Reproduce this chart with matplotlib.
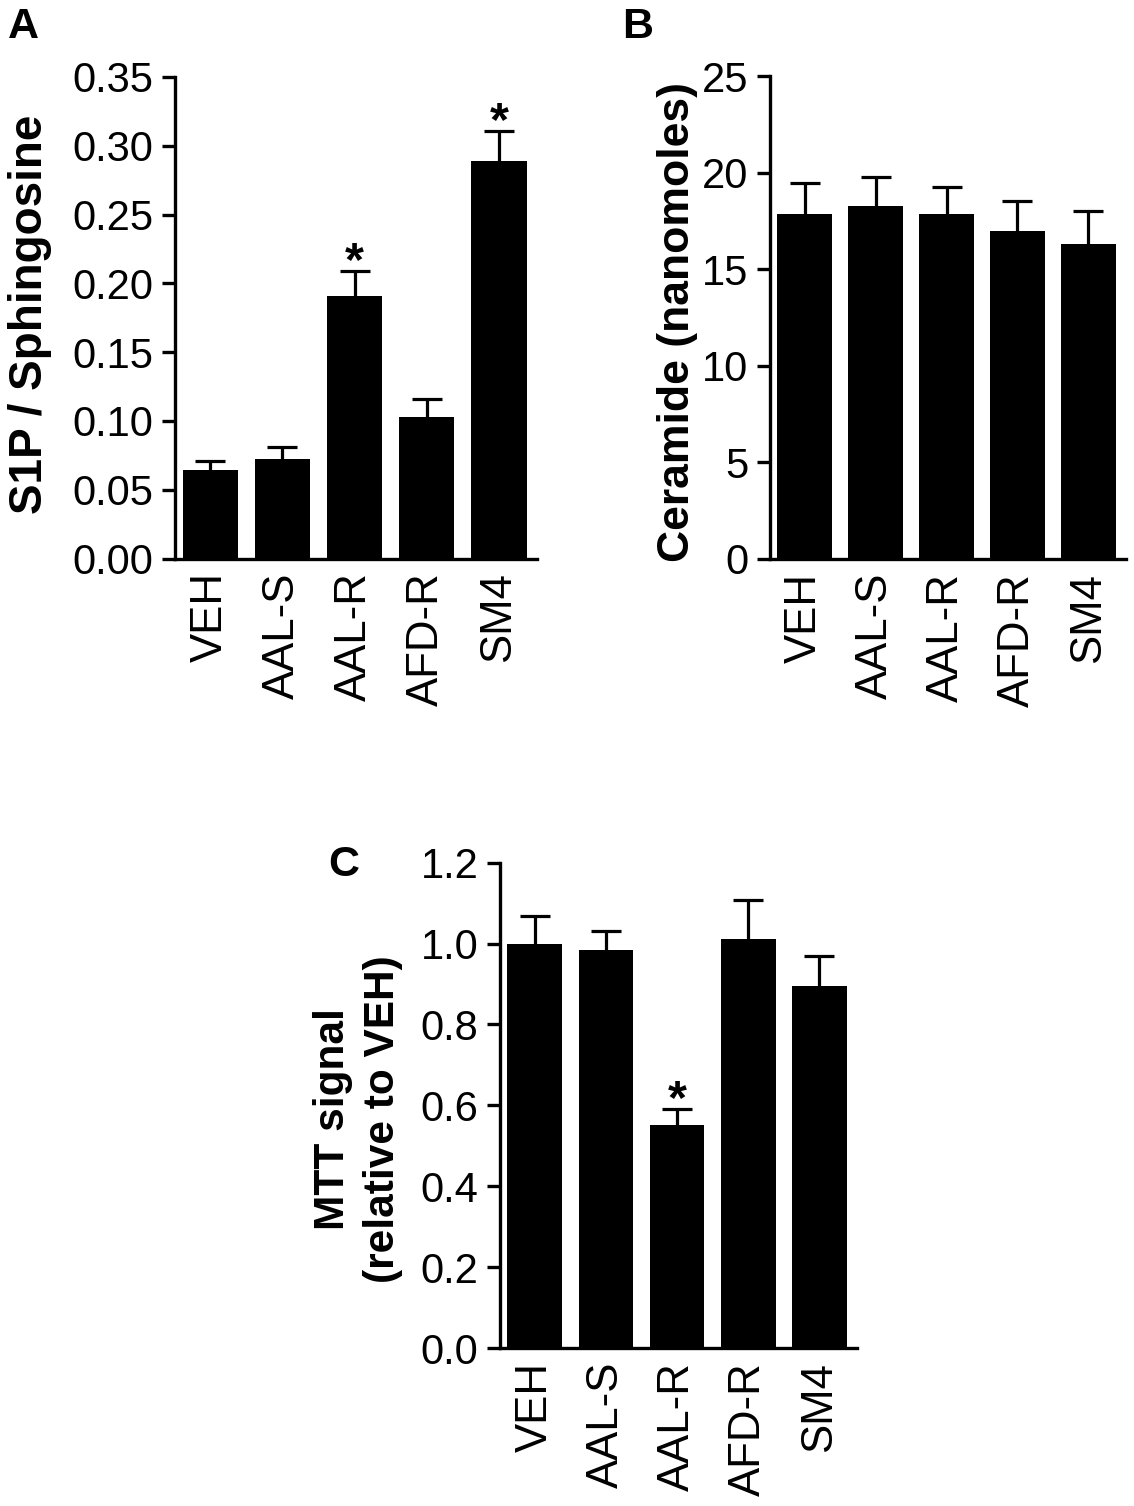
import numpy as np
import matplotlib
matplotlib.use("Agg")
import matplotlib.pyplot as plt

plt.rcParams['font.family'] = ['Liberation Sans', 'DejaVu Sans']

groups = ['VEH', 'AAL-S', 'AAL-R', 'AFD-R', 'SM4']

# panel A: S1P / sphingosine ratio
s1p_mean = [0.064, 0.072, 0.191, 0.103, 0.289]
s1p_sem = [0.007, 0.009, 0.018, 0.013, 0.022]
s1p_sig = [False, False, True, False, True]

# panel B: ceramide (nanomoles)
cer_mean = [17.84, 18.29, 17.84, 16.99, 16.29]
cer_sem = [1.61, 1.47, 1.40, 1.54, 1.74]
cer_sig = [False, False, False, False, False]

# panel C: MTT signal relative to VEH
mtt_mean = [1.00, 0.984, 0.551, 1.012, 0.894]
mtt_sem = [0.067, 0.047, 0.041, 0.096, 0.076]
mtt_sig = [False, False, True, False, False]

W, H = 1134, 1506
fig = plt.figure(figsize=(W / 100, H / 100), dpi=100)


def px_axes(l, t, r, b):
    return fig.add_axes([l / W, 1 - b / H, (r - l) / W, (b - t) / H])


def bar_panel(ax, mean, sem, sig, ymax, yticks, ylabels):
    x = np.arange(len(groups))
    ax.bar(x, mean, width=0.77, color='black', edgecolor='none', zorder=2)
    eb = ax.errorbar(x, mean, yerr=[np.zeros(len(mean)), sem], fmt='none',
                     ecolor='black', elinewidth=2.3, capsize=11,
                     capthick=2.3, zorder=3)
    # only the upper half of each error bar is shown
    eb[1][0].set_visible(False)
    for i in range(len(mean)):
        if sig[i]:
            ax.annotate('*', xy=(x[i], mean[i] + sem[i]), xytext=(0, 6),
                        textcoords='offset points', ha='center', va='center',
                        fontsize=35, fontweight='bold')
    ax.set_xlim(-0.49, 4.53)
    ax.set_ylim(0, ymax)
    ax.set_yticks(yticks)
    ax.set_yticklabels(ylabels)
    ax.set_xticks(x)
    ax.set_xticklabels(groups, rotation=90, va='top', ha='center')
    for s in ['top', 'right']:
        ax.spines[s].set_visible(False)
    for s in ['left', 'bottom']:
        ax.spines[s].set_linewidth(2.4)
    ax.tick_params(axis='y', length=9.5, width=2.4, pad=6, labelsize=30)
    ax.tick_params(axis='x', length=0, pad=10, labelsize=31.5)


axA = px_axes(175, 77, 537, 558.5)
bar_panel(axA, s1p_mean, s1p_sem, s1p_sig, 0.35,
          [0, 0.05, 0.10, 0.15, 0.20, 0.25, 0.30, 0.35],
          ['0.00', '0.05', '0.10', '0.15', '0.20', '0.25', '0.30', '0.35'])

axB = px_axes(770, 76, 1126, 559)
bar_panel(axB, cer_mean, cer_sem, cer_sig, 25,
          [0, 5, 10, 15, 20, 25], ['0', '5', '10', '15', '20', '25'])

axC = px_axes(500, 862.7, 857, 1348)
bar_panel(axC, mtt_mean, mtt_sem, mtt_sig, 1.2,
          [0, 0.2, 0.4, 0.6, 0.8, 1.0, 1.2],
          ['0.0', '0.2', '0.4', '0.6', '0.8', '1.0', '1.2'])

# y axis titles
fig.text(30 / W, 1 - 314 / H, 'S1P / Sphingosine', rotation=90, ha='center',
         va='center', fontsize=33, fontweight='bold')
fig.text(677 / W, 1 - 322 / H, 'Ceramide (nanomoles)', rotation=90,
         ha='center', va='center', fontsize=32, fontweight='bold')
fig.text(358 / W, 1 - 1119 / H, 'MTT signal\n(relative to VEH)', rotation=90,
         ha='center', va='center', fontsize=30.5, fontweight='bold',
         linespacing=1.3)

# panel letters
fig.text(8 / W, 1 - 7 / H, 'A', ha='left', va='top', fontsize=31,
         fontweight='bold')
fig.text(622 / W, 1 - 7 / H, 'B', ha='left', va='top', fontsize=31,
         fontweight='bold')
fig.text(328 / W, 1 - 845 / H, 'C', ha='left', va='top', fontsize=31,
         fontweight='bold')

fig.savefig('out.png', dpi=100)
